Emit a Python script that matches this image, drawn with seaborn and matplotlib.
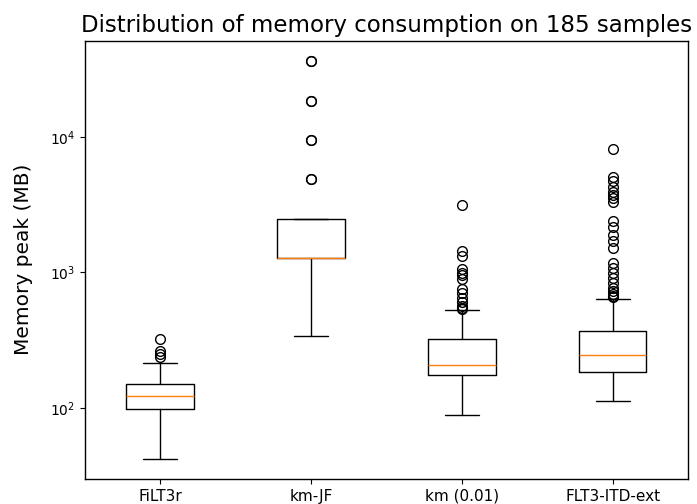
import numpy as np
import matplotlib
matplotlib.use("Agg")
import matplotlib.pyplot as plt
import seaborn as sns
from matplotlib.ticker import NullLocator

# tools compared
labels = ["FiLT3r", "km-JF", "km (0.01)", "FLT3-ITD-ext"]

# box summary (MB)
whisker_low = [42, 340, 89, 113]
q1 = [98, 1280, 175, 183]
median = [123, 1280, 209, 244]
q3 = [149, 2500, 324, 367]
whisker_high = [215, 2500, 528, 641]

# outliers (km-JF ones are drawn several times over in the original)
fliers_filt3r = [320, 265, 248, 238]
fliers_kmjf = [36600, 36400, 18600, 18500, 9550, 9500, 4900, 4880]
fliers_km001 = [3130, 1430, 1320, 1060, 990, 950, 900, 750, 700, 650, 600, 570, 550, 540]
fliers_flt3 = [8200, 5100, 4700, 4300, 3950, 3750, 3550, 3300, 2400, 2150, 1900,
               1700, 1520, 1180, 1080, 990, 910, 840, 770, 725, 690, 670, 655]
fliers = [fliers_filt3r, fliers_kmjf, fliers_km001, fliers_flt3]

sns.set_theme(style="ticks", rc={
    "axes.edgecolor": "black",
    "axes.labelcolor": "black",
    "text.color": "black",
    "xtick.color": "black",
    "ytick.color": "black",
    "axes.linewidth": 1.0,
})
plt.rcParams["font.family"] = ["DejaVu Sans"]

stats = []
for i in range(len(labels)):
    stats.append({
        "label": labels[i],
        "whislo": whisker_low[i],
        "q1": q1[i],
        "med": median[i],
        "q3": q3[i],
        "whishi": whisker_high[i],
        "fliers": np.array(fliers[i]),
    })

fig = plt.figure(figsize=(6.97, 5.04), dpi=100)
fig.subplots_adjust(left=0.122, right=0.987, bottom=0.050, top=0.919)
ax = fig.add_subplot(111)

ax.bxp(stats, widths=0.45,
       boxprops=dict(color="black", linewidth=1.0),
       whiskerprops=dict(color="black", linewidth=1.0),
       capprops=dict(color="black", linewidth=1.0),
       medianprops=dict(color="#ff7f0e", linewidth=1.0),
       flierprops=dict(marker="o", markerfacecolor="none",
                       markeredgecolor="black", markersize=7))
ax.set_yscale("log")
ax.yaxis.set_minor_locator(NullLocator())
ax.tick_params(axis="both", labelsize=10, length=3.5, width=0.8)
ax.tick_params(axis="x", labelsize=11)
ax.set_ylabel("Memory peak (MB)", fontsize=14.5, labelpad=12)
ax.set_title("Distribution of memory consumption on 185 samples", fontsize=16.5)

fig.savefig("out.png", dpi=100)
